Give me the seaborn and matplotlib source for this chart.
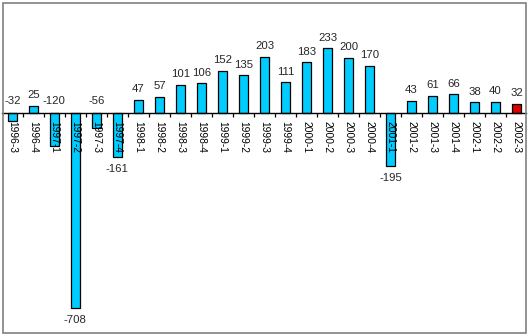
import matplotlib
matplotlib.use("Agg")
import matplotlib.pyplot as plt
import seaborn as sns
import pandas as pd
from matplotlib.patches import Rectangle
from matplotlib.ticker import FixedLocator

categories = ["1996-3", "1996-4", "1997-1", "1997-2", "1997-3", "1997-4",
              "1998-1", "1998-2", "1998-3", "1998-4", "1999-1", "1999-2",
              "1999-3", "1999-4", "2000-1", "2000-2", "2000-3", "2000-4",
              "2001-1", "2001-2", "2001-3", "2001-4", "2002-1", "2002-2",
              "2002-3"]
values = [-32, 25, -120, -708, -56, -161, 47, 57, 101, 106, 152, 135,
          203, 111, 183, 233, 200, 170, -195, 43, 61, 66, 38, 40, 32]
# negative labels that are shown above the zero line in the original
labels_above_axis = ["1996-3", "1997-1", "1997-3"]

sns.set_theme(style="white")
plt.rcParams['font.family'] = ['Liberation Sans', 'DejaVu Sans']

W, H = 529, 336
fig = plt.figure(figsize=(W / 100, H / 100), dpi=100)
fig.patch.set_facecolor("white")
ax = fig.add_axes([2.5 / W, 1 - 333 / H, (526 - 2.5) / W, (333 - 2.5) / H])
ax.set_facecolor("none")

df = pd.DataFrame({"cat": categories, "val": values})
colors = {c: ("#DD0000" if i == len(categories) - 1 else "#00CCFF")
          for i, c in enumerate(categories)}
sns.barplot(data=df, x="cat", y="val", hue="cat", palette=colors,
            legend=False, width=0.4, edgecolor="black", linewidth=0.9,
            saturation=1, ax=ax)

ax.set_axisbelow(False)
ax.set_xlim(-0.47, len(categories) - 0.55)
ax.set_ylim(-800, 400)
ax.set_xlabel("")
ax.set_ylabel("")
ax.set_yticks([])

for s in ["top", "left", "right"]:
    ax.spines[s].set_visible(False)
ax.spines["bottom"].set_position(("data", 0))
ax.spines["bottom"].set_color("black")
ax.spines["bottom"].set_linewidth(1.0)
ax.spines["bottom"].set_zorder(3)

ax.set_xticks(range(len(categories)))
ax.set_xticklabels(categories, rotation=270, fontsize=7.4, ha="center", va="top")
ax.tick_params(axis="x", which="major", length=0, pad=6.0, colors="black")
ax.xaxis.set_minor_locator(FixedLocator([i + 0.5 for i in range(len(categories) - 1)]))
ax.tick_params(axis="x", which="minor", length=3, width=0.9, color="black",
               direction="out", bottom=True)
ax.xaxis.set_zorder(4)

for i, (c, v) in enumerate(zip(categories, values)):
    if v >= 0:
        ax.annotate(str(v), (i, v), xytext=(0, 4), textcoords="offset points",
                    ha="center", va="bottom", fontsize=8.2)
    elif c in labels_above_axis:
        ax.annotate(str(v), (i, 0), xytext=(0, 5), textcoords="offset points",
                    ha="center", va="bottom", fontsize=8.2)
    else:
        ax.annotate(str(v), (i, v), xytext=(0, -5), textcoords="offset points",
                    ha="center", va="top", fontsize=8.2)

fig.patches.append(Rectangle((2.5 / W, 1 - 333 / H), (526 - 2.5) / W, (333 - 2.5) / H,
                             transform=fig.transFigure, fill=False,
                             edgecolor="#808080", linewidth=1.2))

fig.savefig("out.png", dpi=100)
